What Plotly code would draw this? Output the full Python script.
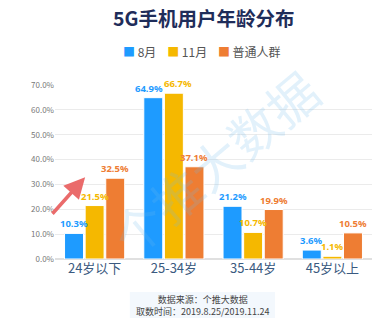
import plotly.graph_objects as go

categories = ["24岁以下", "25-34岁", "35-44岁", "45岁以上"]
series_names = ["8月", "11月", "普通人群"]
aug = [0.103, 0.649, 0.212, 0.036]
nov = [0.215, 0.667, 0.107, 0.011]
general = [0.325, 0.371, 0.199, 0.105]
colors = ["#1E9BFF", "#F5B800", "#EE7D33"]
y_ticks = [0, 0.1, 0.2, 0.3, 0.4, 0.5, 0.6, 0.7]

BARGAP = 0.22
fig = go.Figure()
all_series = [aug, nov, general]
for name, vals, c in zip(series_names, all_series, colors):
    fig.add_trace(go.Bar(
        x=categories, y=vals, name=name,
        marker=dict(color=c, line=dict(color="white", width=1)),
        cliponaxis=False,
    ))

fig.update_layout(
    width=389, height=323,
    margin=dict(l=55, r=17, t=85, b=64),
    paper_bgcolor="white", plot_bgcolor="white",
    barmode="group", bargap=BARGAP, bargroupgap=0.08,
    font=dict(family="Noto Sans CJK SC", color="#555"),
    title=dict(text="<b>5G手机用户年龄分布</b>", x=0.524, xanchor="center",
               y=0.94, yanchor="middle",
               font=dict(size=19.5, color="#1F2D5A")),
    showlegend=False,
)
fig.update_yaxes(range=[0, 0.7], tickvals=y_ticks, tickformat=".1%",
                 showgrid=True, gridcolor="#EBEBEB", zeroline=True,
                 zerolinecolor="#E0E0E0", tickfont=dict(size=8, color="#777"),
                 ticks="", ticklen=0)
fig.update_xaxes(tickfont=dict(size=13, color="#3A5A80"), showline=False, ticks="")

# value labels above bars (small nudge apart where neighbours collide)
plot_w = 389 - 55 - 17
slot = plot_w / len(categories) * (1 - BARGAP) / len(series_names)
for i, (vals, c) in enumerate(zip(all_series, colors)):
    for j, v in enumerate(vals):
        nudge = 0
        if j == 1 and i == 0:
            nudge = -4
        if j == 1 and i == 1:
            nudge = 4
        fig.add_annotation(x=categories[j], y=v, text=f"<b>{v*100:.1f}%</b>",
                           showarrow=False, yanchor="bottom", yshift=1,
                           xshift=(i - 1) * slot + nudge,
                           font=dict(size=9.5, color=c, family="Noto Sans"))

# legend row (text kept as real text)
legend_html = "&nbsp;&nbsp;&nbsp;&nbsp;".join(
    f"<span style='color:{c}'>■</span> {n}" for n, c in zip(series_names, colors))
fig.add_annotation(x=0.464, y=1.195, xref="paper", yref="paper", text=legend_html,
                   showarrow=False, yanchor="middle",
                   font=dict(size=12, color="#555"))

# arrow
fig.add_annotation(x=0.095, y=0.47, xref="paper", yref="paper",
                   ax=-34, ay=38, showarrow=True, arrowhead=2, arrowsize=1.2,
                   arrowwidth=3.5, arrowcolor="#EA6B6B", text="")
# watermark
fig.add_annotation(x=0.5, y=0.56, xref="paper", yref="paper", text="个推大数据",
                   showarrow=False, textangle=-40,
                   font=dict(size=50, color="rgba(110,185,235,0.2)"))
# footer
fig.add_shape(type="rect", xref="paper", yref="paper", x0=0.236, x1=0.694,
              y0=-0.339, y1=-0.19, fillcolor="#F3F8FD", line=dict(width=0),
              layer="below")
fig.add_annotation(x=0.465, y=-0.265, xref="paper", yref="paper",
                   text="数据来源：个推大数据<br>取数时间：2019.8.25/2019.11.24",
                   showarrow=False, yanchor="middle",
                   font=dict(size=9, color="#444"), align="center")

fig.write_html("out.html")
